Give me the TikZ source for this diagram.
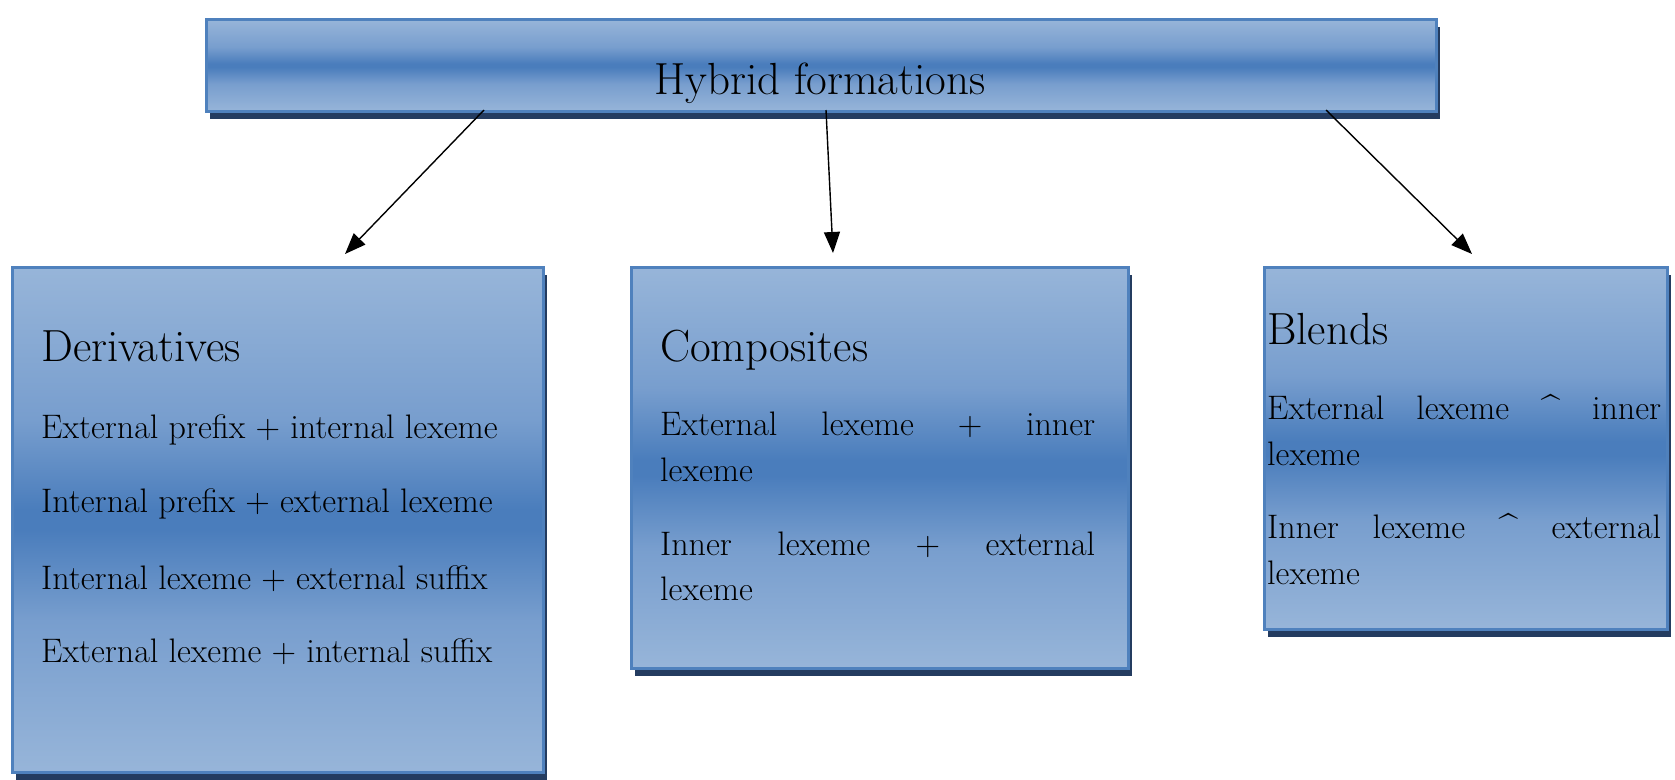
\documentclass[tikz,border=0pt]{standalone}
\usepackage{fontspec}
\usetikzlibrary{arrows.meta,shadows}
\definecolor{lightb}{RGB}{151,181,217}
\definecolor{lightc}{RGB}{120,158,206}
\definecolor{midb}{RGB}{74,125,188}
\definecolor{edgeb}{RGB}{79,129,189}
\definecolor{shadb}{RGB}{36,60,96}
\pgfdeclareverticalshading{wordblue}{100bp}{color(0bp)=(lightb); color(25bp)=(lightb); color(40bp)=(lightc); color(49bp)=(midb); color(51bp)=(midb); color(60bp)=(lightc); color(75bp)=(lightb); color(100bp)=(lightb)}
\begin{document}
\begin{tikzpicture}[x=1pt,y=-1pt,
  gbox/.style={draw=edgeb, line width=2.8pt, shading=wordblue,
    drop shadow={shadow xshift=4pt, shadow yshift=-8pt, fill=shadb, opacity=1},
    inner sep=0pt, anchor=north west},
  ttl/.style={font=\fontsize{45}{54}\selectfont, inner sep=0pt, anchor=base},
  hd/.style={font=\fontsize{45}{54}\selectfont, inner sep=0pt, anchor=base west},
  bd/.style={font=\fontsize{34}{40}\selectfont, inner sep=0pt, anchor=base west},
  arr/.style={line width=1.4pt, -{Triangle[length=21pt,width=16pt]}}
]
\useasboundingbox (0,0) rectangle (1675,779);
% boxes
\node[gbox, minimum width=1230pt, minimum height=92pt] (top) at (205,18) {};
\node[gbox, minimum width=531pt, minimum height=505pt] (der) at (11,266) {};
\node[gbox, minimum width=497pt, minimum height=401pt] (com) at (630,266) {};
\node[gbox, minimum width=403pt, minimum height=362pt] (ble) at (1263,266) {};
% title
\node[ttl] (tt) at (820,94) {Hybrid formations};
% derivatives
\node[hd] (dh) at (41,361) {Derivatives};
\node[bd] (d1) at (41,438) {External prefix + internal lexeme};
\node[bd] (d2) at (41,512) {Internal prefix + external lexeme};
\node[bd] (d3) at (41,589) {Internal lexeme + external suffix};
\node[bd] (d4) at (41,662) {External lexeme + internal suffix};
% composites
\node[hd] (ch) at (660,361) {Composites};
\node[bd] (c1) at (660,435) {\makebox[435pt][s]{External lexeme + inner}};
\node[bd] (c2) at (660,481) {lexeme};
\node[bd] (c3) at (660,555) {\makebox[435pt][s]{Inner lexeme + external}};
\node[bd] (c4) at (660,600) {lexeme};
% blends
\node[hd] (bh) at (1267,344) {Blends};
\node[bd] (b1) at (1267,419) {\makebox[394pt][s]{External lexeme \textasciicircum\ inner}};
\node[bd] (b2) at (1267,465) {lexeme};
\node[bd] (b3) at (1267,538) {\makebox[394pt][s]{Inner lexeme \textasciicircum\ external}};
\node[bd] (b4) at (1267,584) {lexeme};
% arrows
\coordinate (s1) at (484,110);
\coordinate (e1) at (345,254);
\coordinate (s2) at (826,110);
\coordinate (e2) at (833,253);
\coordinate (s3) at (1326,110);
\coordinate (e3) at (1472,254);
\draw[arr] (s1) -- (e1);
\draw[arr] (s2) -- (e2);
\draw[arr] (s3) -- (e3);
\end{tikzpicture}
\end{document}
